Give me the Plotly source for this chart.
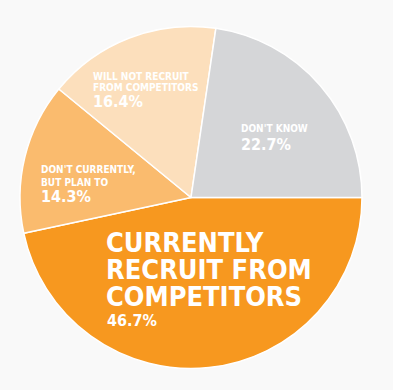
import plotly.graph_objects as go

labels = ["CURRENTLY RECRUIT FROM COMPETITORS", "DON'T CURRENTLY, BUT PLAN TO",
          "WILL NOT RECRUIT FROM COMPETITORS", "DON'T KNOW"]
values = [46.7, 14.3, 16.4, 22.7]
colors = ["#F7981F", "#FABB6E", "#FCDFBC", "#D5D6D8"]

W, H = 393, 390
fig = go.Figure(go.Pie(
    labels=labels, values=values, sort=False, direction="clockwise", rotation=90,
    marker=dict(colors=colors, line=dict(color="white", width=1.5)),
    textinfo="none", hoverinfo="skip", showlegend=False,
    domain=dict(x=[20 / W, 362 / W], y=[1 - 368.5 / H, 1 - 26.5 / H]),
))

FONT = "DejaVu Sans Condensed, Liberation Sans Narrow, Arial Narrow, sans-serif"

def ann(x, y, text, size, bold=True):
    t = f"<b>{text}</b>" if bold else text
    fig.add_annotation(x=x / W, y=1 - y / H, xref="paper", yref="paper", text=t,
                       showarrow=False, xanchor="left", yanchor="middle",
                       xshift=-2, font=dict(family=FONT, size=size, color="white"))

# Will not recruit
ann(93, 77, "WILL NOT RECRUIT", 10)
ann(93, 88, "FROM COMPETITORS", 10)
ann(93, 102, f"{values[2]}%", 16)
# Don't know
ann(241, 129, "DON'T KNOW", 10)
ann(241, 144, f"{values[3]}%", 16)
# Don't currently
ann(41, 169, "DON'T CURRENTLY,", 10)
ann(41, 182, "BUT PLAN TO", 10)
ann(41, 196, f"{values[1]}%", 16)
# Currently
ann(106, 242, "CURRENTLY", 27)
ann(106, 269, "RECRUIT FROM", 27)
ann(106, 296, "COMPETITORS", 27)
ann(107, 320, f"{values[0]}%", 16)

fig.update_layout(width=W, height=H, margin=dict(l=0, r=0, t=0, b=0),
                  paper_bgcolor="#F9F9F9", plot_bgcolor="#F9F9F9")
fig.write_html("out.html", config={"displayModeBar": False},
               post_script="document.body.style.margin='0';document.body.style.background='#F9F9F9';")
